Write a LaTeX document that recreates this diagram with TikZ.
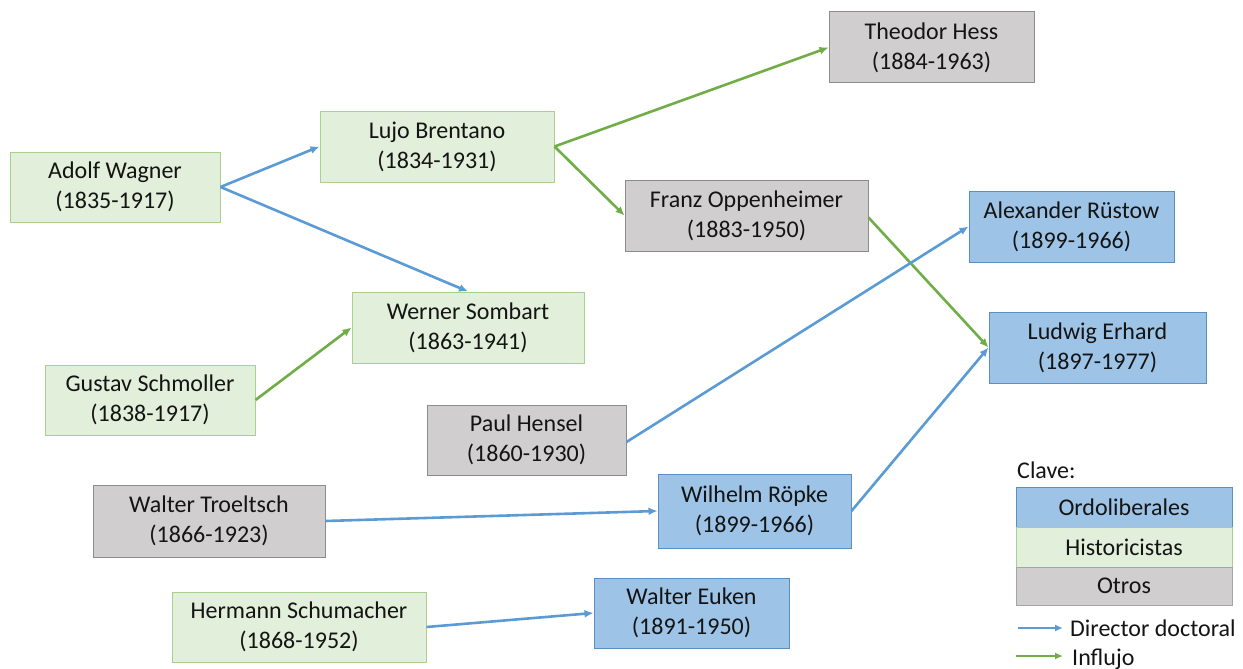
\documentclass[tikz,border=0pt]{standalone}
\usepackage{fontspec}
\setmainfont{Carlito}
\usetikzlibrary{arrows.meta}
\definecolor{gfill}{HTML}{E2EFDA}
\definecolor{gline}{HTML}{A9D18E}
\definecolor{bfill}{HTML}{9DC3E6}
\definecolor{bline}{HTML}{5B8FC0}
\definecolor{ofill}{HTML}{D0CECE}
\definecolor{oline}{HTML}{8C8C8C}
\definecolor{barrow}{HTML}{5B9BD5}
\definecolor{garrow}{HTML}{70AD47}
\tikzset{
  person/.style={draw, line width=1pt, align=center, inner sep=0pt,
    font=\fontsize{24}{30}\selectfont, text=black!92},
  hist/.style={person, fill=gfill, draw=gline},
  ordo/.style={person, fill=bfill, draw=bline},
  otro/.style={person, fill=ofill, draw=oline},
  dir/.style={draw=barrow, line width=2.6pt, -{Latex[length=9pt,width=8pt]}},
  infl/.style={draw=garrow, line width=2.6pt, -{Latex[length=9pt,width=8pt]}},
  legtext/.style={font=\fontsize{24}{28}\selectfont, text=black!92, inner sep=0pt, anchor=west},
}
\begin{document}
\begin{tikzpicture}[x=1pt,y=-1pt]
\useasboundingbox (0,0) rectangle (1243,669);
% nodes
\node[hist, minimum width=210, minimum height=70] (wagner) at (115,187) {Adolf Wagner\\(1835-1917)};
\node[hist, minimum width=234, minimum height=71] (brentano) at (437,146.5) {Lujo Brentano\\(1834-1931)};
\node[otro, minimum width=205, minimum height=71] (hess) at (931.5,47.5) {Theodor Hess\\(1884-1963)};
\node[otro, minimum width=243, minimum height=71] (franz) at (746.5,215.5) {Franz Oppenheimer\\(1883-1950)};
\node[ordo, minimum width=205, minimum height=71] (rustow) at (1071.5,226.5) {Alexander Rüstow\\(1899-1966)};
\node[ordo, minimum width=217, minimum height=71] (erhard) at (1097.5,347.5) {Ludwig Erhard\\(1897-1977)};
\node[hist, minimum width=232, minimum height=71] (sombart) at (468,327.5) {Werner Sombart\\(1863-1941)};
\node[hist, minimum width=210, minimum height=70] (schmoller) at (150,400) {Gustav Schmoller\\(1838-1917)};
\node[otro, minimum width=199, minimum height=70] (hensel) at (526.5,440) {Paul Hensel\\(1860-1930)};
\node[otro, minimum width=232, minimum height=72] (troeltsch) at (209,521) {Walter Troeltsch\\(1866-1923)};
\node[ordo, minimum width=193, minimum height=74] (ropke) at (754.5,511) {Wilhelm Röpke\\(1899-1966)};
\node[hist, minimum width=254, minimum height=70] (schumacher) at (299,627) {Hermann Schumacher\\(1868-1952)};
\node[ordo, minimum width=195, minimum height=70] (euken) at (691.5,613) {Walter Euken\\(1891-1950)};
% connectors
\draw[dir] (wagner.east) -- (brentano.west);
\draw[dir] (wagner.east) -- (sombart.north);
\draw[infl] (brentano.east) -- (hess.west);
\draw[infl] (brentano.east) -- (franz.west);
\draw[infl] ([yshift=-2]franz.east) -- (erhard.west);
\draw[infl] (schmoller.east) -- (sombart.west);
\draw[dir] ([yshift=-2]hensel.east) -- (rustow.west);
\draw[dir] (troeltsch.east) -- (ropke.west);
\draw[dir] (ropke.east) -- (erhard.west);
\draw[dir] (schumacher.east) -- (euken.west);
% legend
\node[legtext] (clave) at (1017,470) {Clave:};
\node[ordo, minimum width=216, minimum height=40, font=\fontsize{24}{28}\selectfont] (lordo) at (1124,507) {Ordoliberales};
\node[hist, minimum width=216, minimum height=40, font=\fontsize{24}{28}\selectfont] (lhist) at (1124,547) {Historicistas};
\node[otro, minimum width=216, minimum height=38, font=\fontsize{24}{28}\selectfont, draw=ofill!80!black] (lotro) at (1124,586) {Otros};
\coordinate (b1) at (1018,628);
\coordinate (b2) at (1063,628);
\coordinate (g1) at (1016,656);
\coordinate (g2) at (1063,656);
\draw[barrow, line width=2.6pt, -{Latex[length=8pt,width=7pt]}] (b1) -- (b2);
\draw[garrow, line width=2.6pt, -{Latex[length=8pt,width=7pt]}] (g1) -- (g2);
\node[legtext] (ldir) at (1070,628) {Director doctoral};
\node[legtext] (linf) at (1072,659) {Influjo};
\end{tikzpicture}
\end{document}
